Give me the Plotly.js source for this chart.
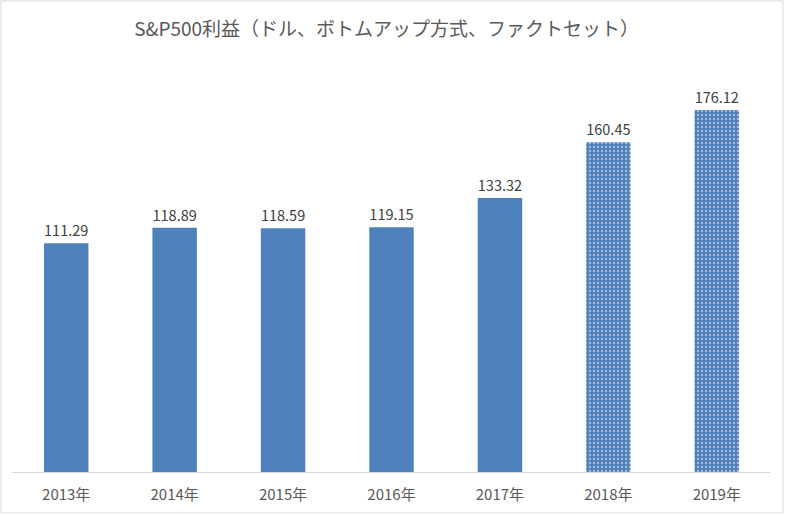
<!DOCTYPE html>
<html>
<head>
<meta charset="utf-8">
<script src="https://cdn.plot.ly/plotly-3.0.1.min.js"></script>
<style>html,body{margin:0;padding:0;background:#fff;}#chart{width:789px;height:516px;}</style>
</head>
<body>
<div id="chart"></div>
<script>
const years = ["2013年","2014年","2015年","2016年","2017年","2018年","2019年"];
const actualYears = ["2013年","2014年","2015年","2016年","2017年"];
const actualValues = [111.29, 118.89, 118.59, 119.15, 133.32];
const estimateYears = ["2018年","2019年"];
const estimateValues = [160.45, 176.12];
const titleText = "S&amp;P500利益（ドル、ボトムアップ方式、ファクトセット）";

const font = "'Noto Sans CJK JP', 'Noto Sans', sans-serif";
const blue = "#4F81BD";

const traces = [
  {
    type: "bar", x: actualYears, y: actualValues,
    marker: {color: blue},
    text: actualValues.map(v => v.toFixed(2)), textposition: "outside",
    textfont: {family: font, size: 14.5, color: "#404040"},
    cliponaxis: false, hoverinfo: "x+y"
  },
  {
    type: "bar", x: estimateYears, y: estimateValues,
    marker: {color: blue, pattern: {shape: ".", fillmode: "overlay", fgcolor: "#ffffff", bgcolor: blue, size: 4, solidity: 0.25}},
    text: estimateValues.map(v => v.toFixed(2)), textposition: "outside",
    textfont: {family: font, size: 14.5, color: "#404040"},
    cliponaxis: false, hoverinfo: "x+y"
  }
];

const layout = {
  width: 789, height: 516,
  margin: {l: 12, r: 18, t: 61, b: 44},
  paper_bgcolor: "#ffffff", plot_bgcolor: "#ffffff",
  showlegend: false,
  barmode: "overlay",
  bargap: 0.59,
  title: {text: titleText, font: {family: font, size: 19, color: "#595959"}, x: 0.49, xanchor: "center", y: 0.943, yanchor: "middle"},
  xaxis: {
    type: "category", categoryorder: "array", categoryarray: years,
    showline: true, linecolor: "#d9d9d9", linewidth: 1,
    ticks: "", showgrid: false, zeroline: false,
    ticklabelstandoff: 9,
    tickfont: {family: font, size: 15, color: "#595959"}
  },
  yaxis: {range: [0, 200], visible: false, showgrid: false, zeroline: false},
  shapes: [{
    type: "rect", xref: "paper", yref: "paper",
    x0: -0.0145, x1: 1.0158, y0: -0.0998, y1: 1.146,
    line: {color: "#d9d9d9", width: 1}, fillcolor: "rgba(0,0,0,0)", layer: "below"
  }]
};

Plotly.newPlot("chart", traces, layout, {displayModeBar: false, staticPlot: true});
</script>
</body>
</html>
